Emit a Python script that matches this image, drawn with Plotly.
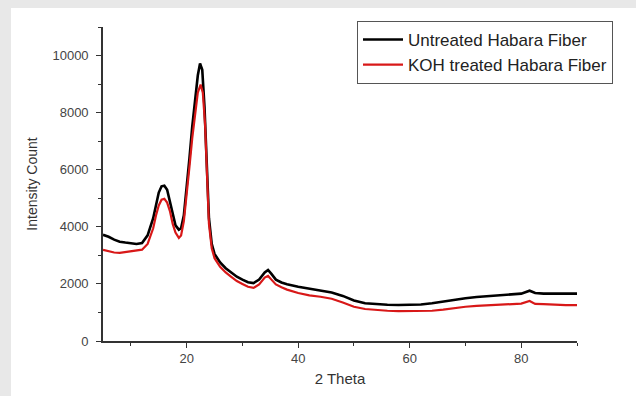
import plotly.graph_objects as go

# 2-theta positions (degrees) and intensities
theta_untreated = [5, 6, 7, 8, 9, 10, 11, 12, 13, 14, 14.5, 15, 15.5, 16, 16.5, 17, 17.5, 18, 18.6,
                   19, 19.5, 20, 20.5, 21, 21.5, 22, 22.4, 22.8, 23.2, 23.6, 24, 24.5, 25, 26, 27,
                   28, 29, 30, 31, 32, 33, 34, 34.6, 35.2, 36, 37, 38, 40, 42, 44, 46, 48, 50, 52,
                   54, 56, 58, 60, 62, 64, 66, 68, 70, 72, 74, 76, 78, 80, 81.5, 82.5, 84, 86, 88, 90]
untreated = [3720, 3650, 3550, 3480, 3450, 3430, 3400, 3430, 3700, 4300, 4800, 5200, 5420, 5440, 5300,
             4900, 4400, 4050, 3900, 3950, 4400, 5300, 6400, 7500, 8500, 9300, 9720, 9500, 8200, 6000,
             4300, 3400, 3050, 2750, 2550, 2400, 2250, 2150, 2060, 2030, 2150, 2400, 2490, 2350, 2150,
             2050, 1990, 1900, 1830, 1780, 1700, 1580, 1420, 1320, 1290, 1270, 1260, 1260, 1280, 1320,
             1380, 1450, 1500, 1540, 1570, 1600, 1630, 1660, 1760, 1680, 1660, 1650, 1660, 1660]

theta_koh = [5, 6, 7, 8, 9, 10, 11, 12, 13, 14, 14.5, 15, 15.5, 16, 16.5, 17, 17.5, 18, 18.6,
             19, 19.5, 20, 20.5, 21, 21.5, 22, 22.5, 22.9, 23.3, 23.6, 24, 24.5, 25, 26, 27,
             28, 29, 30, 31, 32, 33, 34, 34.6, 35.2, 36, 37, 38, 40, 42, 44, 46, 48, 50, 52,
             54, 56, 58, 60, 62, 64, 66, 68, 70, 72, 74, 76, 78, 80, 81.5, 82.5, 84, 86, 88, 90]
koh_treated = [3190, 3150, 3100, 3090, 3120, 3150, 3170, 3200, 3400, 3950, 4400, 4750, 4950, 4980, 4850,
               4550, 4100, 3800, 3610, 3700, 4200, 5050, 6100, 7100, 8000, 8700, 8980, 8700, 7600, 5800,
               4100, 3250, 2900, 2600, 2400, 2250, 2100, 2000, 1900, 1860, 1980, 2220, 2280, 2150, 1980,
               1880, 1800, 1680, 1600, 1550, 1480, 1350, 1200, 1120, 1080, 1060, 1050, 1050, 1050, 1060,
               1100, 1160, 1200, 1230, 1250, 1270, 1290, 1310, 1400, 1300, 1290, 1270, 1260, 1260]

x_ticks = [20, 40, 60, 80]
y_ticks = [0, 2000, 4000, 6000, 8000, 10000]

W, H = 636, 396
L, R, T, B = 103, 59, 27, 55
pw, ph = W - L - R, H - T - B

def px_x(p):
    return (p - L) / pw

def px_y(p):
    return (H - B - p) / ph

fig = go.Figure()
fig.add_trace(go.Scatter(x=theta_untreated, y=untreated, mode="lines",
                         name="Untreated Habara Fiber",
                         line=dict(color="#000000", width=2.6)))
fig.add_trace(go.Scatter(x=theta_koh, y=koh_treated, mode="lines",
                         name="KOH treated Habara Fiber",
                         line=dict(color="#d81818", width=2.2)))

axis_common = dict(showgrid=False, zeroline=False, showline=True, linecolor="#333333",
                   linewidth=1.6, ticks="outside", ticklen=5, tickwidth=1.4, tickcolor="#333333",
                   tickfont=dict(family="Arial, Liberation Sans", size=13, color="#444444"))

fig.update_layout(
    width=W, height=H,
    margin=dict(l=L, r=R, t=T, b=B),
    paper_bgcolor="#e8e8e8",
    plot_bgcolor="rgba(0,0,0,0)",
    font=dict(family="Arial, Liberation Sans", color="#333333"),
    xaxis=dict(range=[5, 90], tickvals=x_ticks, ticktext=[str(v) for v in x_ticks],
               minor=dict(tickvals=[10, 30, 50, 70, 90], ticks="outside", ticklen=3,
                          tickcolor="#333333", tickwidth=1.2),
               title=dict(text="2 Theta", font=dict(size=15, color="#333333"), standoff=8),
               **axis_common),
    yaxis=dict(range=[0, 11000], tickvals=y_ticks, ticktext=[str(v) for v in y_ticks],
               minor=dict(tickvals=[1000, 3000, 5000, 7000, 9000, 11000], ticks="outside",
                          ticklen=3, tickcolor="#333333", tickwidth=1.2),
               ticklabelstandoff=5,
               title=dict(text="Intensity Count", font=dict(size=14, color="#333333"), standoff=12),
               **axis_common),
    legend=dict(x=px_x(357), y=px_y(21), xanchor="left", yanchor="top",
                bgcolor="#ffffff", bordercolor="#555555", borderwidth=1,
                font=dict(family="Arial, Liberation Sans", size=17, color="#222222"),
                itemwidth=40, tracegroupgap=0),
    showlegend=True,
    shapes=[dict(type="rect", xref="paper", yref="paper", layer="below",
                 x0=px_x(11), x1=px_x(640), y0=px_y(400), y1=px_y(8),
                 fillcolor="#ffffff", line=dict(width=0))],
)

fig.write_html("out.html", config={"displayModeBar": False},
               post_script="document.body.style.margin='0';document.body.style.overflow='hidden';")
